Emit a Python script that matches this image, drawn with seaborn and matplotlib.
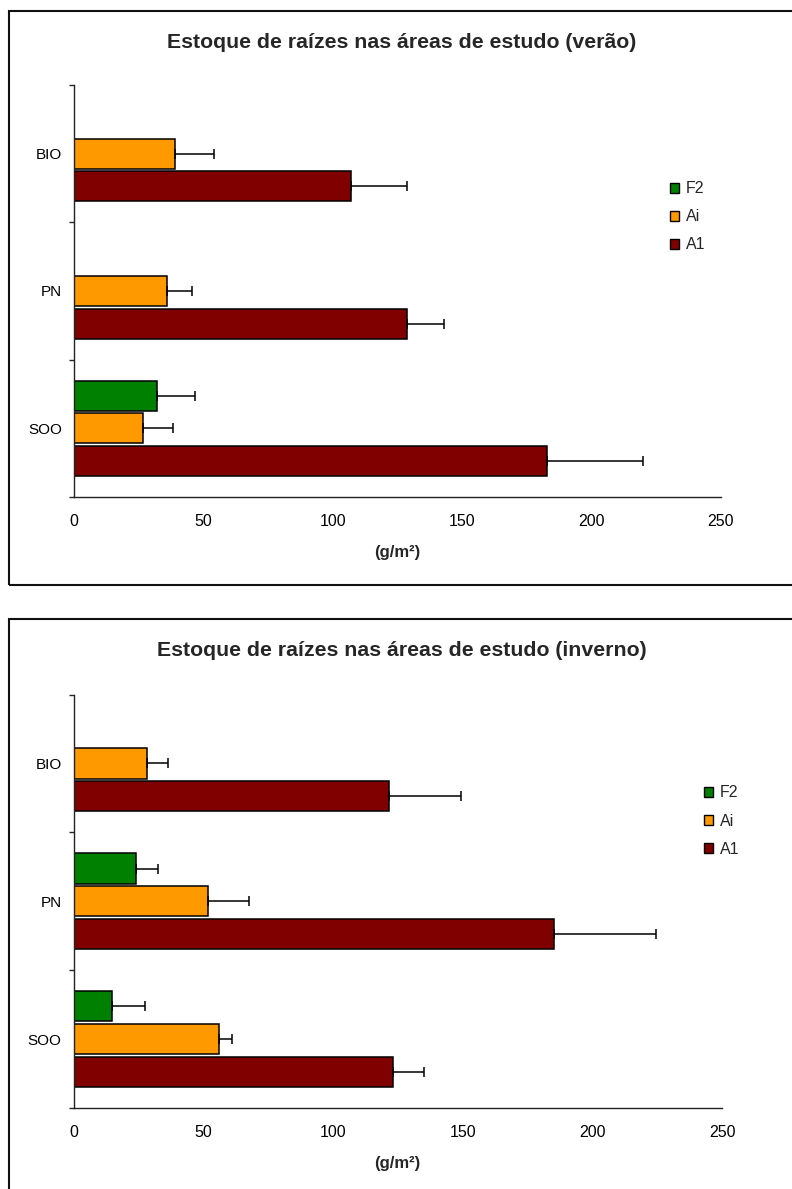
import numpy as np
import pandas as pd
import matplotlib
matplotlib.use("Agg")
import matplotlib.pyplot as plt
from matplotlib.patches import Rectangle
import seaborn as sns

# Root stock per study area and plot type, mean and standard deviation (g/m²)
sites = ["BIO", "PN", "SOO"]
groups = ["F2", "Ai", "A1"]
colors = ["#008000", "#FF9900", "#800000"]

summer_f2 = [0.0, 0.0, 32.2]
summer_ai = [38.9, 35.9, 26.8]
summer_a1 = [107.1, 128.8, 182.7]
summer_f2_sd = [0.0, 0.0, 14.7]
summer_ai_sd = [15.3, 9.8, 11.6]
summer_a1_sd = [21.6, 14.2, 37.0]

winter_f2 = [0.0, 24.2, 15.0]
winter_ai = [28.5, 52.0, 55.9]
winter_a1 = [121.5, 185.3, 123.2]
winter_f2_sd = [0.0, 8.4, 12.5]
winter_ai_sd = [8.1, 15.8, 5.1]
winter_a1_sd = [27.8, 39.2, 11.9]

x_ticks = [0, 50, 100, 150, 200, 250]
titles = ["Estoque de raízes nas áreas de estudo (verão)",
          "Estoque de raízes nas áreas de estudo (inverno)"]
unit_label = "(g/m²)"

sns.set_style("white")
plt.rcParams["font.family"] = ["Liberation Sans", "DejaVu Sans"]

W, H = 792, 1189
fig = plt.figure(figsize=(W / 100, H / 100), dpi=100)


def fx(px):
    return px / W


def fy(py):
    return 1 - py / H


def draw_panel(ax, f2, ai, a1, f2_sd, ai_sd, a1_sd, legend_xy):
    df = pd.DataFrame({
        "site": sites * 3,
        "group": np.repeat(groups, 3),
        "value": f2 + ai + a1,
        "sd": f2_sd + ai_sd + a1_sd,
    })
    sns.barplot(data=df, y="site", x="value", hue="group", order=sites,
                hue_order=groups, palette=colors, orient="h", width=0.712,
                gap=0.076, errorbar=None, edgecolor="black", linewidth=1.1,
                saturation=1, ax=ax, legend=True)
    sd_table = df.pivot(index="group", columns="site", values="sd")
    for container, level in zip(ax.containers, groups):
        for bar in container:
            yc = bar.get_y() + bar.get_height() / 2
            site = sites[int(round(yc))]
            sd = sd_table.loc[level, site]
            if sd > 0:
                ax.errorbar(bar.get_width(), yc, xerr=[[0], [sd]], fmt="none",
                            ecolor="black", elinewidth=1.1, capsize=3.6,
                            capthick=1.1, zorder=3)

    ax.set_xlim(0, 250)
    ax.set_xticks(x_ticks)
    ax.set_yticks(range(len(sites)))
    ax.set_yticklabels(sites)
    ax.set_yticks([-0.5, 0.5, 1.5, 2.5], minor=True)
    ax.set_ylim(2.5, -0.5)
    ax.set_xlabel("")
    ax.set_ylabel("")
    ax.tick_params(axis="x", length=4, width=1, direction="out", pad=8,
                   labelsize=11.5, colors="black")
    ax.tick_params(axis="y", which="major", length=0, pad=8.5,
                   labelsize=11, colors="black")
    ax.tick_params(axis="y", which="minor", length=3.6, width=1,
                   direction="out", left=True)
    for s in ("top", "right"):
        ax.spines[s].set_visible(False)
    for s in ("left", "bottom"):
        ax.spines[s].set_color("#222222")
        ax.spines[s].set_linewidth(1.0)

    sns.move_legend(ax, "center left", bbox_to_anchor=legend_xy, title=None,
                    frameon=False, handlelength=0.6, handleheight=0.6,
                    handletextpad=0.4, labelspacing=0.82, borderpad=0,
                    borderaxespad=0, fontsize=11.5)
    leg = ax.get_legend()
    for h in leg.legend_handles:
        h.set_edgecolor("black")
        h.set_linewidth(1.0)


# summer panel
ax1 = fig.add_axes([fx(74), fy(497), fx(721 - 74), (497 - 85) / H])
draw_panel(ax1, summer_f2, summer_ai, summer_a1,
           summer_f2_sd, summer_ai_sd, summer_a1_sd, (0.921, 0.68))

# winter panel
ax2 = fig.add_axes([fx(73.5), fy(1108), fx(722 - 73.5), (1108 - 694.5) / H])
draw_panel(ax2, winter_f2, winter_ai, winter_a1,
           winter_f2_sd, winter_ai_sd, winter_a1_sd, (0.972, 0.694))

# titles, axis labels and chart frames
for title, base, xl_base in ((titles[0], 48, 557), (titles[1], 656, 1168)):
    fig.text(fx(402), fy(base), title, ha="center", va="baseline",
             fontsize=15.3, fontweight="bold")
    fig.text(fx(397), fy(xl_base), unit_label, ha="center", va="baseline",
             fontsize=12, fontweight="bold")

fig.add_artist(Rectangle((fx(9), fy(585)), 1.0, (585 - 11) / H,
                         transform=fig.transFigure, fill=False,
                         edgecolor="#111111", linewidth=1.5))
fig.add_artist(Rectangle((fx(9), fy(1300)), 1.0, (1300 - 619) / H,
                         transform=fig.transFigure, fill=False,
                         edgecolor="#111111", linewidth=1.5))

fig.savefig("out.png", dpi=100)
